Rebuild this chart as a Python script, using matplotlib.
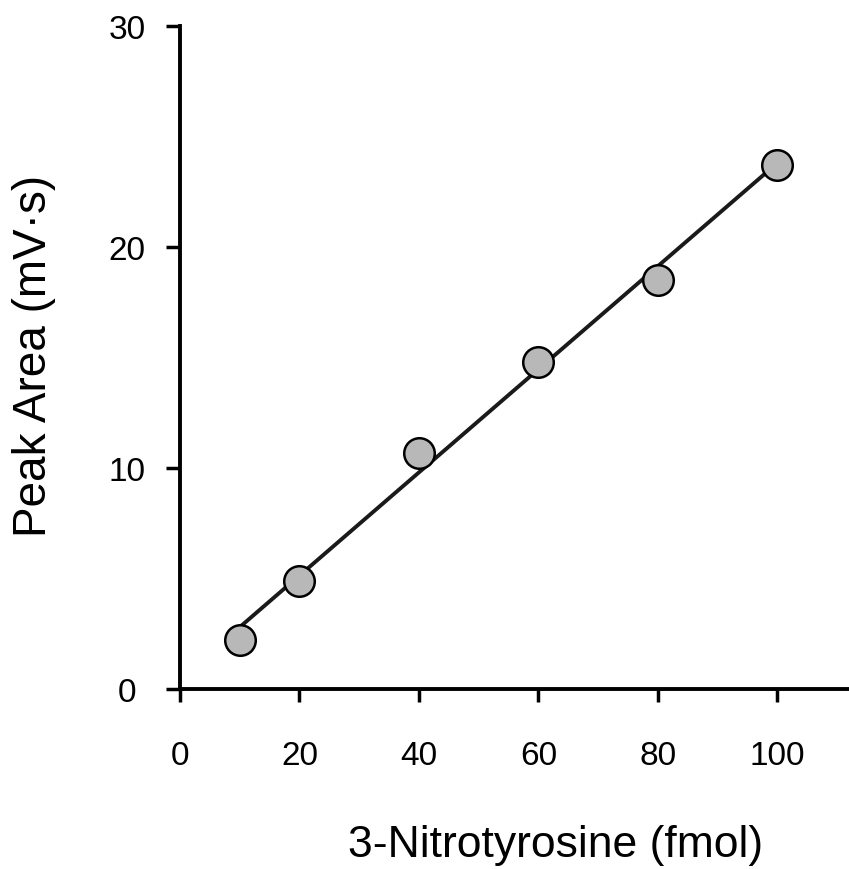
import matplotlib
matplotlib.use("Agg")
import matplotlib.pyplot as plt

plt.rcParams["font.family"] = ["Liberation Sans", "DejaVu Sans"]

# calibration points
amount_fmol = [10, 20, 40, 60, 80, 100]
peak_area = [2.2, 4.9, 10.7, 14.8, 18.5, 23.7]
# fitted line, read at its two ends
fit_x = [10, 100]
fit_y = [2.8, 23.8]

x_ticks = [0, 20, 40, 60, 80, 100]
y_ticks = [0, 10, 20, 30]

W, H = 849, 870
fig = plt.figure(figsize=(W / 100, H / 100), dpi=100)
ax = fig.add_axes([180 / W, 1 - 690 / H, 1 - 180 / W, (690 - 27) / H])

ax.plot(fit_x, fit_y, color="#1a1a1a", lw=2.8, solid_capstyle="round", zorder=2)
ax.plot(amount_fmol, peak_area, "o", ms=22, mfc="#b8b8b8", mec="black",
        mew=1.8, zorder=3)

ax.set_xlim(0, 112)
ax.set_ylim(0, 30)
ax.set_xticks(x_ticks)
ax.set_yticks(y_ticks)
ax.tick_params(axis="x", length=9, width=2.5, pad=28, labelsize=24)
ax.tick_params(axis="y", length=10, width=2.5, pad=28, labelsize=24)
for lab in ax.get_yticklabels():
    lab.set_horizontalalignment("center")

for s in ["top", "right"]:
    ax.spines[s].set_visible(False)
for s in ["left", "bottom"]:
    ax.spines[s].set_linewidth(2.8)

fig.text(556 / W, 1 - 857 / H, "3-Nitrotyrosine (fmol)", fontsize=32,
         ha="center", va="baseline")
fig.text(34 / W, 1 - 356 / H, "Peak Area (mV\u00b7s)", fontsize=33,
         rotation=90, ha="center", va="center")

fig.savefig("out.png", dpi=100, facecolor="white")
plt.close(fig)
